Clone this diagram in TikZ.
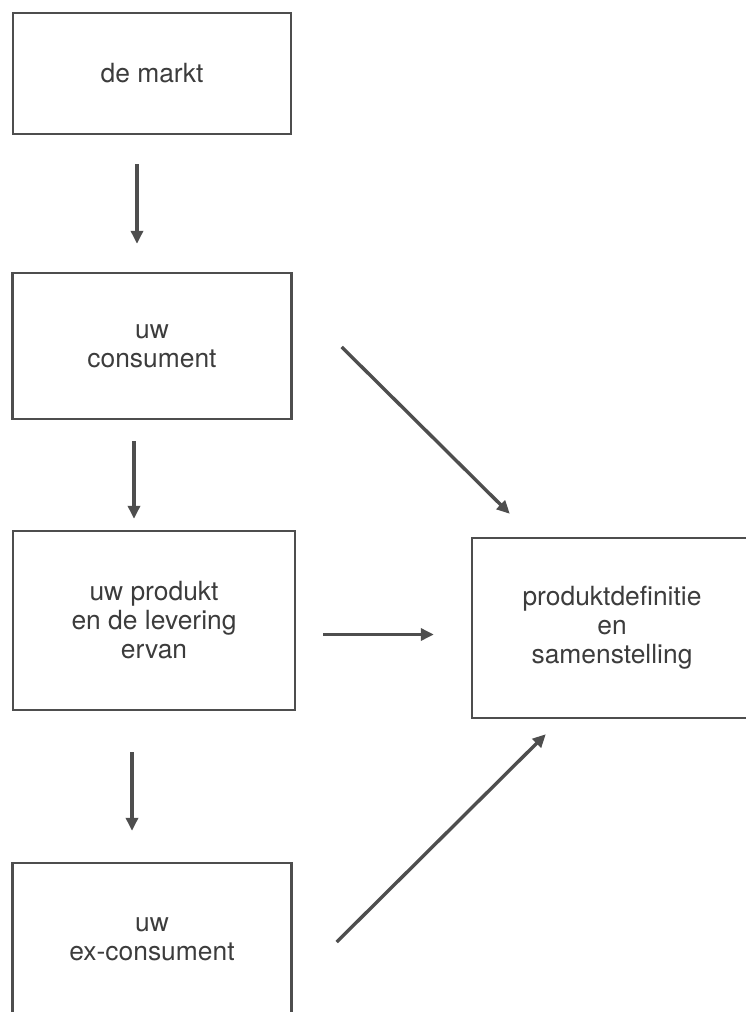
\documentclass[tikz,border=0pt]{standalone}
\usepackage{fontspec}
\setmainfont{TeX Gyre Heros}
\usepackage{tikz}
\usetikzlibrary{arrows.meta, positioning}
\definecolor{myline}{RGB}{78,78,78}
\definecolor{mytext}{RGB}{60,60,60}
\tikzset{
  box/.style={rectangle, draw=myline, line width=2.4pt, align=center,
    text=mytext, font=\fontsize{26.4}{29}\selectfont, inner sep=0pt},
  arrow/.style={-{Triangle[length=13pt,width=12pt]}, line width=3.4pt, color=myline}
}
\begin{document}
\begin{tikzpicture}[x=1pt, y=-1pt]
  \useasboundingbox (0,0) rectangle (746,1012);
  \clip (0,0) rectangle (746,1012);
  \node[box, minimum width=278pt, minimum height=121pt] (markt) at (152,73.5) {de markt};
  \node[box, minimum width=279pt, minimum height=146pt, below=136.6pt of markt] (cons) {uw\\consument};
  \node[box, minimum width=282pt, minimum height=179pt, below=109.6pt of cons, xshift=2pt] (prod) {uw produkt\\en de levering\\ervan};
  \node[box, minimum width=279pt, minimum height=152pt, below=150.6pt of prod, xshift=-2pt] (excons) {uw\\ex-consument};
  \node[box, minimum width=280pt, minimum height=180pt] (def) at (612,628) {produktdefinitie\\en\\samenstelling};

  \draw[arrow] ([xshift=-15pt,yshift=-29pt]markt.south) -- ([xshift=-15pt,yshift=28pt]cons.north);
  \draw[arrow] ([xshift=-18pt,yshift=-21pt]cons.south) -- ([xshift=-20pt,yshift=11pt]prod.north);
  \draw[arrow] ([xshift=-22pt,yshift=-41pt]prod.south) -- ([xshift=-20pt,yshift=31pt]excons.north);
  \draw[arrow] ([shift={(49pt,-1pt)}]cons.east) -- ([shift={(39pt,23pt)}]def.north west);
  \draw[arrow] ([shift={(27pt,-14pt)}]prod.east) coordinate (hstart) -- ([xshift=-37pt]def.west |- hstart);
  \draw[arrow] ([shift={(44pt,-3pt)}]excons.east) -- ([shift={(75pt,-15pt)}]def.south west);
\end{tikzpicture}
\end{document}
